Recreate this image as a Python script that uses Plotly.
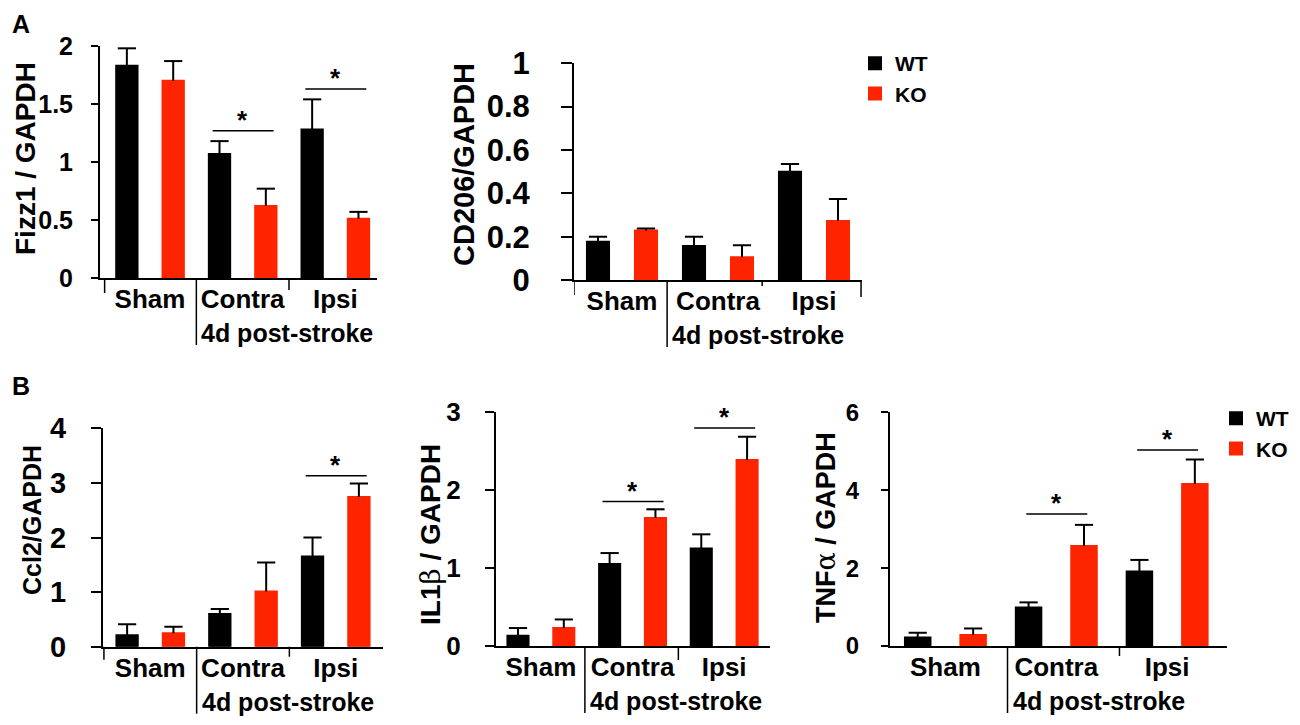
import plotly.graph_objects as go

W, H = 1300, 725
OFF = 8  # page body margin in the browser

categories = ["Sham", "Contra", "Ipsi"]
groups = ["WT", "KO"]

fizz1_wt = [1.83, 1.07, 1.28]
fizz1_wt_err = [0.15, 0.11, 0.26]
fizz1_ko = [1.70, 0.62, 0.51]
fizz1_ko_err = [0.17, 0.15, 0.06]
fizz1_sig = ["Contra", "Ipsi"]
fizz1_sig_y = [1.27, 1.63]

cd206_wt = [0.177, 0.157, 0.50]
cd206_wt_err = [0.023, 0.043, 0.035]
cd206_ko = [0.228, 0.105, 0.272]
cd206_ko_err = [0.010, 0.055, 0.102]
cd206_sig = []
cd206_sig_y = []

ccl2_wt = [0.21, 0.60, 1.65]
ccl2_wt_err = [0.20, 0.09, 0.35]
ccl2_ko = [0.245, 1.01, 2.74]
ccl2_ko_err = [0.12, 0.53, 0.25]
ccl2_sig = ["Ipsi"]
ccl2_sig_y = [3.13]

il1b_wt = [0.13, 1.05, 1.25]
il1b_wt_err = [0.10, 0.14, 0.18]
il1b_ko = [0.23, 1.64, 2.38]
il1b_ko_err = [0.11, 0.11, 0.30]
il1b_sig = ["Contra", "Ipsi"]
il1b_sig_y = [1.85, 2.79]

tnfa_wt = [0.22, 0.99, 1.91]
tnfa_wt_err = [0.12, 0.13, 0.30]
tnfa_ko = [0.28, 2.57, 4.16]
tnfa_ko_err = [0.17, 0.54, 0.63]
tnfa_sig = ["Contra", "Ipsi"]
tnfa_sig_y = [3.39, 5.03]

FONT = "Liberation Sans, Arial, sans-serif"
RED = "#ff2400"
BLACK = "#000000"


def px_x(p):
    return (p - OFF) / W


def px_y(p):
    return 1 - (p - OFF) / H


# panel boxes in pixels: x of y-axis, x end, y top, y of zero
panels = [
    dict(wt=fizz1_wt, wt_err=fizz1_wt_err, ko=fizz1_ko, ko_err=fizz1_ko_err,
         sig=fizz1_sig, sig_y=fizz1_sig_y, title="Fizz1 / GAPDH",
         box=(100, 377, 46, 278), xr=[-0.54, 2.45], yr=[0, 2], dtick=0.5,
         tick=25, ticklen=7, standoff=13, tsize=28, tpos=(25, 159),
         seps=[(-0.49, 15), (0.5, 67), (1.5, 12)], legend="legend"),
    dict(wt=cd206_wt, wt_err=cd206_wt_err, ko=cd206_ko, ko_err=cd206_ko_err,
         sig=cd206_sig, sig_y=cd206_sig_y, title="CD206/GAPDH",
         box=(574, 862, 63.3, 280), xr=[-0.5, 2.5], yr=[0, 1], dtick=0.2,
         tick=31, ticklen=11, standoff=25, tsize=29, tpos=(464, 165),
         seps=[(-0.5, 15), (0.47, 67), (1.46, 6), (2.49, 17)], legend=None),
    dict(wt=ccl2_wt, wt_err=ccl2_wt_err, ko=ccl2_ko, ko_err=ccl2_ko_err,
         sig=ccl2_sig, sig_y=ccl2_sig_y, title="Ccl2/GAPDH",
         box=(103, 383, 428.3, 646.7), xr=[-0.51, 2.51], yr=[0, 4], dtick=1,
         tick=29, ticklen=10, standoff=19, tsize=25, tpos=(32, 520),
         seps=[(-0.5, 13), (0.5, 67), (1.5, 10)], legend=None),
    dict(wt=il1b_wt, wt_err=il1b_wt_err, ko=il1b_ko, ko_err=il1b_ko_err,
         sig=il1b_sig, sig_y=il1b_sig_y,
         title="IL1<span style='font-weight:normal;font-family:DejaVu Serif'>β</span> / GAPDH",
         box=(496, 770, 411.7, 646), xr=[-0.49, 2.5], yr=[0, 3], dtick=1,
         tick=26, ticklen=9, standoff=19, tsize=28, tpos=(430, 535),
         seps=[(0.48, 67), (1.5, 14)], legend=None),
    dict(wt=tnfa_wt, wt_err=tnfa_wt_err, ko=tnfa_ko, ko_err=tnfa_ko_err,
         sig=tnfa_sig, sig_y=tnfa_sig_y,
         title="TNF<span style='font-weight:normal;font-family:DejaVu Serif'>α</span> / GAPDH",
         box=(890, 1227, 412.3, 646), xr=[-0.5, 2.54], yr=[0, 6], dtick=2,
         tick=24, ticklen=7, standoff=17, tsize=27, tpos=(825, 528),
         seps=[(0.56, 67), (1.57, 10)], legend="legend2"),
]

fig = go.Figure()
shapes = []
annotations = []
layout = {}

for i, p in enumerate(panels, start=1):
    xa = "x" if i == 1 else f"x{i}"
    ya = "y" if i == 1 else f"y{i}"
    for name, vals, errs, color in [("WT", p["wt"], p["wt_err"], BLACK),
                                    ("KO", p["ko"], p["ko_err"], RED)]:
        fig.add_trace(go.Bar(
            x=list(range(len(categories))), y=vals, name=name,
            marker=dict(color=color, line=dict(color=color, width=2)),
            error_y=dict(type="data", array=errs, arrayminus=[0] * len(errs),
                         symmetric=False, width=0, thickness=2, color=BLACK),
            offsetgroup=name, xaxis=xa, yaxis=ya,
            showlegend=p["legend"] is not None,
            legend=p["legend"] or "legend",
        ))
        # error bar caps
        fig.add_trace(go.Scatter(
            x=list(range(len(categories))), y=[v + e for v, e in zip(vals, errs)],
            mode="markers", offsetgroup=name, xaxis=xa, yaxis=ya,
            marker=dict(symbol="line-ew", size=13, line=dict(width=2, color=BLACK)),
            showlegend=False, hoverinfo="skip",
        ))

    x0, x1, yt, yb = p["box"]
    hpx = yb - yt
    key = "" if i == 1 else str(i)
    layout["xaxis" + key] = dict(
        domain=[px_x(x0), px_x(x1)], range=p["xr"], anchor=ya,
        tickvals=list(range(len(categories))), ticktext=categories,
        ticks="", showline=True, linecolor=BLACK, linewidth=2,
        showgrid=False, zeroline=False, ticklabelstandoff=-3,
        tickfont=dict(family=FONT, size=26, color=BLACK, weight="bold"),
    )
    layout["yaxis" + key] = dict(
        domain=[px_y(yb), px_y(yt)], range=p["yr"], anchor=xa, dtick=p["dtick"],
        ticks="outside", ticklen=p["ticklen"], tickwidth=2, tickcolor=BLACK,
        showline=True, linecolor=BLACK, linewidth=2, showgrid=False,
        zeroline=False, ticklabelstandoff=p["standoff"],
        tickfont=dict(family=FONT, size=p["tick"], color=BLACK, weight="bold"),
    )

    line = dict(color=BLACK, width=1.5)
    # category separators below the x axis
    for sx, ln in p["seps"]:
        shapes.append(dict(type="line", xref=xa, yref=ya + " domain",
                           x0=sx, x1=sx, y0=0, y1=-ln / hpx, line=line))

    long_sep = [sx for sx, ln in p["seps"] if ln > 50][0]
    annotations.append(dict(
        text="4d post-stroke", xref=xa, yref=ya + " domain", x=long_sep, y=0,
        xanchor="left", yanchor="middle", xshift=3, yshift=-55, showarrow=False,
        font=dict(family=FONT, size=25, color=BLACK, weight="bold")))

    for cat, sy in zip(p["sig"], p["sig_y"]):
        cx = categories.index(cat)
        shapes.append(dict(type="line", xref=xa, yref=ya, xsizemode="pixel",
                           xanchor=cx, x0=-30, x1=31, y0=sy, y1=sy, line=line))
        annotations.append(dict(
            text="*", xref=xa, yref=ya, x=cx, y=sy, xanchor="center",
            yanchor="bottom", yshift=-6, showarrow=False,
            font=dict(family=FONT, size=26, color=BLACK, weight="bold")))

    annotations.append(dict(
        text=p["title"], xref="paper", yref="paper", x=px_x(p["tpos"][0]),
        y=px_y(p["tpos"][1]), xanchor="center", yanchor="middle",
        textangle=-90, showarrow=False,
        font=dict(family=FONT, size=p["tsize"], color=BLACK, weight="bold")))

for label, (lx, ly) in [("A", (21, 8)), ("B", (21, 370))]:
    annotations.append(dict(
        text=label, xref="paper", yref="paper", x=px_x(lx), y=px_y(ly),
        xanchor="center", yanchor="top", showarrow=False,
        font=dict(family=FONT, size=25, color=BLACK, weight="bold")))

legend_style = dict(font=dict(family=FONT, size=21, color=BLACK, weight="bold"),
                    bgcolor="rgba(0,0,0,0)", borderwidth=0,
                    xanchor="left", yanchor="top", tracegroupgap=0)

fig.update_layout(
    width=W, height=H, margin=dict(l=0, r=0, t=0, b=0, autoexpand=False),
    paper_bgcolor="white", plot_bgcolor="white",
    barmode="group", bargap=0, bargroupgap=0.54,
    scattermode="group", scattergap=0,
    shapes=shapes, annotations=annotations,
    legend=dict(x=px_x(855), y=px_y(43), **legend_style),
    legend2=dict(x=px_x(1216), y=px_y(398), **legend_style),
    **layout,
)

fig.write_html("out.html")
